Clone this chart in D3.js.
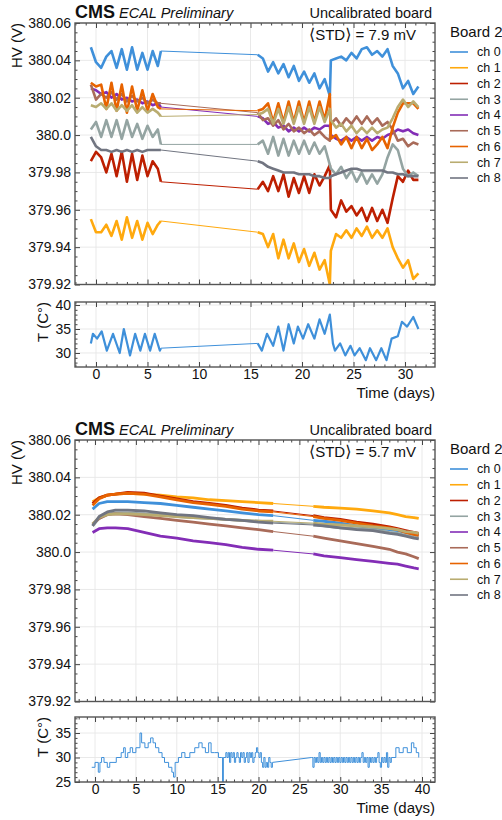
<!DOCTYPE html>
<html>
<head>
<meta charset="utf-8">
<script src="https://cdn.jsdelivr.net/npm/d3@7"></script>
<style>
body { margin: 0; background: #fff; }
text { font-family: "Liberation Sans", Arial, sans-serif; fill: #111; }
</style>
</head>
<body>
<svg id="chart" width="502" height="820"></svg>
<script>
// HV values are written as mV relative to 380 V
var channels = ["ch 0", "ch 1", "ch 2", "ch 3", "ch 4", "ch 5", "ch 6", "ch 7", "ch 8"];
var colors = ["#3f90da", "#ffa90e", "#bd1f01", "#94a4a2", "#832db6", "#a96b59", "#e76300", "#b9ac70", "#717581"];

// ---- uncalibrated board, run 1 ----
var tTop = [-0.5, 0, 0.5, 1, 1.5, 2, 2.5, 3, 3.5, 4, 4.5, 5, 5.5, 6, 6.3,
    15.7, 16.2, 16.7, 17.2, 17.7, 18.2, 18.7, 19.2, 19.7, 20.2, 20.7, 21.2, 21.7, 22.2, 22.7,
    22.8, 23.3, 23.8, 24.3, 24.8, 25.3, 25.8, 26.3, 26.8, 27.3, 27.8, 28.3, 28.8, 29.3, 29.8, 30.3, 30.8, 31.3];
var top_ch0 = [47, 39, 36, 42, 45, 36, 46, 35, 47, 35, 44, 35, 45, 37, 45,
    43, 41, 34, 39, 33, 38, 31, 37, 29, 34, 28, 33, 25, 30, 21,
    40, 41, 42, 40, 44, 41, 46, 47, 43, 45, 42, 46, 37, 33, 25, 29, 22, 26];
var top_ch1 = [-45, -52, -52, -48, -54, -46, -56, -44, -55, -46, -56, -47, -53, -48, -46,
    -52, -53, -60, -53, -66, -56, -66, -58, -68, -61, -70, -63, -72, -67, -80,
    -62, -53, -55, -51, -55, -50, -54, -49, -55, -51, -55, -50, -60, -66, -71, -67, -77, -74];
var top_ch2 = [-14, -9, -12, -20, -10, -22, -9, -25, -10, -24, -11, -22, -14, -18, -25,
    -29, -25, -30, -22, -30, -21, -33, -23, -31, -22, -31, -21, -27, -22, -16,
    -40, -44, -35, -41, -38, -43, -39, -46, -39, -46, -40, -47, -34, -22, -25, -19, -24, -24];
var top_ch3 = [3, 7, -1, 8, -1, 8, -2, 8, -1, 6, -2, 5, -1, 3, -5,
    -5, -3, -10, -1, -11, -2, -11, -3, -10, -3, -10, -4, -10, -6, -16,
    -18, -21, -17, -23, -19, -25, -20, -26, -21, -26, -21, -12, -5, -8, -18, -22, -20, -22];
var top_ch4 = [25, 24, 22, 23, 20, 22, 19, 20, 18, 19, 17, 18, 16, 17, 15,
    10, 9, 6, 7, 4, 5, 2, 4, 2, 4, 2, 4, 3, 5, 5,
    0, -2, -3, -1, -3, -1, -3, -1, -3, -1, -2, 0, 1, 3, 2, 3, 1, 0];
var top_ch5 = [27, 19, 22, 20, 23, 19, 22, 18, 21, 18, 20, 17, 19, 17, 17,
    12, 8, 9, 5, 8, 3, 6, 2, 4, 1, 3, 0, 2, -1, -3,
    6, 9, 5, 9, 6, 10, 6, 10, 6, 9, 5, 7, 3, -3, -2, -6, -4, -5];
var top_ch6 = [28, 26, 27, 14, 28, 13, 27, 12, 26, 13, 24, 13, 22, 15, 14,
    13, 14, 17, 7, 17, 7, 18, 7, 18, 7, 18, 7, 18, 8, 22,
    -2, 0, -5, -1, -7, -1, -7, -2, -8, -5, -1, -7, 4, 12, 17, 17, 17, 14];
var top_ch7 = [16, 15, 17, 14, 17, 13, 16, 13, 16, 12, 15, 12, 14, 12, 10,
    11, 12, 14, 6, 14, 6, 15, 6, 15, 6, 15, 6, 15, 7, 14,
    8, 4, 6, 2, 5, 1, 4, 1, 4, 1, 3, 4, 9, 15, 19, 15, 18, 15];
var top_ch8 = [-1, -6, -8, -8, -9, -8, -9, -8, -9, -8, -9, -8, -8, -8, -8,
    -14, -15, -17, -18, -19, -20, -20, -20, -21, -21, -21, -22, -22, -23, -23,
    -22, -21, -20, -19, -18, -18, -19, -19, -19, -19, -19, -20, -20, -21, -21, -22, -22, -22];

var tTempTop = [-0.5, -0.3, 0.1, 0.55, 1.05, 1.65, 2.3, 2.7, 3.3, 3.8, 4.3, 4.75, 5.25, 5.7, 6.2, 6.3,
    15.7, 16.1, 16.6, 17.2, 17.7, 18.2, 18.7, 19.2, 19.6, 20.1, 20.6, 21.2, 21.7, 22.2, 22.7,
    23.0, 23.2, 23.7, 24.2, 24.7, 25.1, 25.6, 26.2, 26.6, 27.2, 27.7, 28.2, 28.7, 29.3, 29.7, 30.2, 30.8, 31.3];
var tempTop = [32, 34, 33, 34.5, 30.5, 34, 30, 35, 29.5, 34, 30.5, 34, 30.5, 34, 30.5, 31,
    32, 30.5, 34, 31.5, 35.5, 30.5, 36, 32, 35.5, 33, 36, 33, 37, 34, 38,
    32, 30.5, 32, 29.5, 31.5, 29.5, 31, 28.5, 31, 28.5, 31, 28.5, 33, 33.5, 36.5, 35.5, 37.5, 35];

// ---- uncalibrated board, run 2 ----
var tBot = [-0.3, 0.5, 1.5, 2.5, 4, 6, 8, 10, 12, 14, 16, 18, 20, 21.8,
    26.7, 28, 30, 32, 34, 36, 37, 38, 39, 39.6];
var bot_ch0 = [23, 26, 27, 27, 27, 26.5, 26, 25, 24, 23, 22, 21, 20, 19.5, 17, 16.5, 15.5, 14, 13, 12, 11.5, 10.5, 9.5, 9];
var bot_ch1 = [27, 29, 30.5, 31, 31.5, 31, 30.5, 29.5, 29, 28, 27.5, 27, 26.5, 26, 24.5, 24, 23.5, 23, 22, 21, 20, 19, 18.5, 18];
var bot_ch2 = [26, 29, 30.5, 31, 32, 31.5, 30, 28.5, 27, 26, 25, 23.5, 22.5, 22, 19.5, 18.5, 17.5, 16, 15, 13.5, 12.5, 11.5, 10.5, 10];
var bot_ch3 = [14, 18, 20.5, 21, 21, 20.5, 20, 19, 18.5, 18, 17.5, 17, 16.5, 16, 15, 14, 13, 12.5, 12, 10.5, 10, 9, 8, 7.5];
var bot_ch4 = [10.5, 12.5, 13, 13, 12.5, 10.5, 8.5, 7.5, 6, 5, 4, 2.5, 1.5, 1, -1, -2, -3, -4, -5, -6, -6.5, -7.5, -8.5, -9];
var bot_ch5 = [15, 18, 20, 20.5, 20, 19, 18, 17, 16, 15, 14, 13, 12, 11, 8.5, 7.5, 6, 4.5, 3, 1.5, 0, -1, -2.5, -3.5];
var bot_ch6 = [25, 28.5, 30.5, 31, 31.5, 31, 29.5, 28, 26.5, 25.5, 24.5, 23, 22, 21.5, 19, 18, 17, 15.5, 14, 13, 12, 10.5, 9.5, 9];
var bot_ch7 = [15, 18.5, 20, 20.5, 20.5, 20, 19.5, 19, 18.5, 18, 17.5, 17, 16.5, 16.5, 15.5, 15, 14.5, 14, 13.5, 12.5, 12, 11, 10.5, 10];
var bot_ch8 = [14, 19, 21.5, 22.5, 22.5, 22, 21, 20, 19.5, 18.5, 17.5, 17, 16, 15.5, 14.5, 14, 13, 12, 11.5, 10, 9.5, 8.5, 7.5, 7];

var tTempBot = [-0.4, 0, 0.4, 0.6, 0.8, 1.1, 1.5, 1.8, 2.6, 3.2, 3.5, 3.7, 4.0, 4.3, 4.6, 5.0, 5.5, 5.7, 6.1, 6.5,
    6.8, 7.1, 7.4, 7.8, 8.2, 8.5, 9.0, 9.4, 9.6, 9.8, 10.2, 10.6, 11.0, 11.6, 12.2, 12.7, 13.1, 13.5, 13.9, 14.2,
    14.6, 15.1, 15.5, 15.6, 15.7,
    16.0, 16.15, 16.3, 16.45, 16.6, 16.75, 16.9, 17.05, 17.2, 17.35, 17.5, 17.65, 17.8, 17.95, 18.1, 18.25, 18.4, 18.55, 18.7, 18.85,
    19.0, 19.15, 19.3, 19.45, 19.6, 19.75, 19.9, 20.05, 20.2, 20.35, 20.5, 20.65, 20.8, 20.95, 21.1, 21.25, 21.4, 21.55, 21.7,
    26.5, 26.65, 26.8, 26.95, 27.1, 27.25, 27.4, 27.55, 27.7, 27.85, 28.0, 28.15, 28.3, 28.45, 28.6, 28.75, 28.9, 29.05, 29.2, 29.35,
    29.5, 29.65, 29.8, 29.95, 30.1, 30.25, 30.4, 30.55, 30.7, 30.85, 31.0, 31.15, 31.3, 31.45, 31.6, 31.75, 31.9, 32.05, 32.2, 32.35,
    32.5, 32.65, 32.8, 32.95, 33.1, 33.25, 33.4, 33.55, 33.7, 33.85, 34.0, 34.15, 34.3, 34.45, 34.6, 34.75, 34.9, 35.05, 35.2, 35.35,
    35.5, 35.65, 35.8, 35.95, 36.1, 36.25,
    36.8, 37.2, 37.7, 38.2, 38.7, 39.0, 39.3, 39.6];
var tempBot = [28, 29, 27, 29, 30, 29, 28, 29, 30, 31, 32, 30, 31, 32, 31, 32, 35, 33, 32, 33,
    34, 33, 32, 31, 30, 29, 28, 27, 26, 29, 30, 31, 30, 31, 32, 33, 32, 31, 33, 31,
    31, 30, 30, 25, 30,
    31, 30, 31, 29, 31, 30, 31, 29, 30, 31, 30, 29, 31, 30, 31, 29, 30, 31, 29, 31,
    30, 31, 29, 30, 31, 32, 31, 30, 31, 29, 28, 30, 28, 29, 28, 30, 29, 28, 29,
    30, 28, 30, 29, 30, 29, 31, 29, 30, 29, 30, 29, 30, 29, 30, 29, 30, 29, 30, 29,
    30, 29, 30, 29, 30, 29, 30, 29, 30, 29, 30, 29, 30, 29, 30, 29, 30, 29, 30, 29,
    30, 31, 29, 30, 29, 30, 28, 30, 29, 30, 29, 30, 29, 30, 31, 29, 28, 30, 29, 30,
    29, 31, 28, 30, 29, 30,
    32, 31, 32, 31, 33, 32, 31, 30];

var hvTicks = [379.92, 379.94, 379.96, 379.98, 380.0, 380.02, 380.04, 380.06];
var hvTickLabels = ["379.92", "379.94", "379.96", "379.98", "380.0", "380.02", "380.04", "380.06"];

var svg = d3.select("#chart");
var L = 75, W = 360;
var mv = function (v) { return 380 + v / 1000; };

// split a series where the time gap is large; those gaps get a thin joining line
function pieces(ts, vs) {
    var segs = [[]], joins = [];
    for (var i = 0; i < ts.length; i++) {
        if (i > 0 && ts[i] - ts[i - 1] > 2) {
            joins.push([[ts[i - 1], vs[i - 1]], [ts[i], vs[i]]]);
            segs.push([]);
        }
        segs[segs.length - 1].push([ts[i], vs[i]]);
    }
    return {segs: segs, joins: joins};
}

function panel(top, h, x, y, yt, ytLab, yMinor, xt, xMinor, id) {
    var g = svg.append("g").attr("transform", "translate(" + L + "," + top + ")");
    g.append("clipPath").attr("id", id).append("rect").attr("width", W).attr("height", h);
    g.selectAll(".gx").data(xt).enter().append("line")
        .attr("x1", d => x(d)).attr("x2", d => x(d)).attr("y1", 0).attr("y2", h)
        .attr("stroke", "#e6e6e6").attr("stroke-width", 0.9);
    g.selectAll(".gy").data(yt).enter().append("line")
        .attr("y1", d => y(d)).attr("y2", d => y(d)).attr("x1", 0).attr("x2", W)
        .attr("stroke", "#e6e6e6").attr("stroke-width", 0.9);
    var data = g.append("g").attr("clip-path", "url(#" + id + ")");
    var axes = function (xLabels) {
        function style(a) {
            a.select(".domain").remove();
            a.attr("color", "#444");
            a.selectAll("text").attr("font-size", 14).attr("fill", "#111");
        }
        g.append("g").call(d3.axisLeft(y).tickValues(yt).tickFormat((d, i) => ytLab[i]).tickSize(-5).tickPadding(4)).call(style);
        g.append("g").call(d3.axisLeft(y).tickValues(yMinor).tickFormat("").tickSize(-2.5)).call(style);
        g.append("g").attr("transform", "translate(" + W + ",0)").call(d3.axisRight(y).tickValues(yt).tickFormat("").tickSize(-5)).call(style);
        g.append("g").attr("transform", "translate(" + W + ",0)").call(d3.axisRight(y).tickValues(yMinor).tickFormat("").tickSize(-2.5)).call(style);
        var bx = d3.axisBottom(x).tickValues(xt).tickSize(-5).tickPadding(2.5);
        if (!xLabels) bx.tickFormat("");
        g.append("g").attr("transform", "translate(0," + h + ")").call(bx).call(style);
        g.append("g").attr("transform", "translate(0," + h + ")").call(d3.axisBottom(x).tickValues(xMinor).tickFormat("").tickSize(-2.5)).call(style);
        g.append("g").call(d3.axisTop(x).tickValues(xt).tickFormat("").tickSize(-5)).call(style);
        g.append("g").call(d3.axisTop(x).tickValues(xMinor).tickFormat("").tickSize(-2.5)).call(style);
        g.append("rect").attr("width", W).attr("height", h)
            .attr("fill", "none").attr("stroke", "#555").attr("stroke-width", 1.4);
    };
    return {g: g, data: data, axes: axes};
}

function drawSeries(layer, x, y, ts, vs, color, width, curve) {
    var p = pieces(ts, vs);
    var line = d3.line().x(d => x(d[0])).y(d => y(d[1])).curve(curve || d3.curveLinear);
    p.joins.forEach(function (j) {
        layer.append("path").attr("d", d3.line().x(d => x(d[0])).y(d => y(d[1]))(j))
            .attr("fill", "none").attr("stroke", color).attr("stroke-width", 1);
    });
    p.segs.forEach(function (s) {
        layer.append("path").attr("d", line(s))
            .attr("fill", "none").attr("stroke", color).attr("stroke-width", width)
            .attr("stroke-linejoin", "round");
    });
}

function hvBlock(top, tArr, series, xDom, xt, xMinor, std, id, width) {
    var h = 261.5;
    var x = d3.scaleLinear().domain(xDom).range([0, W]);
    var y = d3.scaleLinear().domain([379.92, 380.06]).range([h, 0]);
    var yMinor = d3.range(379.925, 380.06, 0.005).filter(v => Math.abs(Math.round(v * 50) - v * 50) > 0.01);
    var p = panel(top, h, x, y, hvTicks, hvTickLabels, yMinor, xt, xMinor, id);
    series.forEach(function (s, i) {
        drawSeries(p.data, x, y, tArr, s.map(mv), colors[i], width);
    });
    p.axes(false);
    var o = top - 23;
    svg.append("text").attr("x", L).attr("y", o + 17.5).attr("font-size", 18).attr("font-weight", "bold").text("CMS")
        .append("tspan").attr("dx", 4).attr("font-size", 14.5).attr("font-weight", "normal").attr("font-style", "italic").text("ECAL Preliminary");
    svg.append("text").attr("x", 432).attr("y", o + 17.5).attr("text-anchor", "end").attr("font-size", 14.5).text("Uncalibrated board");
    var st = svg.append("text").attr("x", 416).attr("y", o + 40).attr("text-anchor", "end").attr("font-size", 15);
    st.append("tspan").style("font-family", "'DejaVu Sans'").attr("font-size", 16).text("\u27E8");
    st.append("tspan").text("STD");
    st.append("tspan").style("font-family", "'DejaVu Sans'").attr("font-size", 16).text("\u27E9");
    st.append("tspan").text(" = " + std + " mV");
    svg.append("text").attr("transform", "translate(22," + top + ") rotate(-90)").attr("text-anchor", "end").attr("font-size", 15).text("HV (V)");
    svg.append("text").attr("x", 450).attr("y", o + 37).attr("font-size", 15).text("Board 2");
    var leg = svg.append("g").selectAll("g").data(channels).enter().append("g")
        .attr("transform", (d, i) => "translate(450," + (o + 52 + i * 15.75) + ")");
    leg.append("line").attr("x1", 0).attr("x2", 18).attr("stroke", (d, i) => colors[i]).attr("stroke-width", 1.6);
    leg.append("text").attr("x", 27).attr("dy", "0.35em").attr("font-size", 12.5).text(d => d);
}

function tBlock(top, ts, vs, xDom, xt, xMinor, yDom, yt, yMinor, width, curve, id) {
    var h = 65;
    var x = d3.scaleLinear().domain(xDom).range([0, W]);
    var y = d3.scaleLinear().domain(yDom).range([h, 0]);
    var p = panel(top, h, x, y, yt, yt.map(String), yMinor, xt, xMinor, id);
    drawSeries(p.data, x, y, ts, vs, colors[0], width, curve);
    p.axes(true);
    svg.append("text").attr("transform", "translate(48," + top + ") rotate(-90)").attr("text-anchor", "end").attr("font-size", 15).text("T (C\u00B0)");
    svg.append("text").attr("x", L + W).attr("y", top + h + 31).attr("text-anchor", "end").attr("font-size", 15).text("Time (days)");
}

var xTop = [0, 5, 10, 15, 20, 25, 30];
var xBot = [0, 5, 10, 15, 20, 25, 30, 35, 40];

hvBlock(23, tTop, [top_ch0, top_ch1, top_ch2, top_ch3, top_ch4, top_ch5, top_ch6, top_ch7, top_ch8],
    [-2.04, 32.91], xTop, d3.range(-2, 33).filter(v => v % 5 !== 0), "7.9", "c1", 2.6);
tBlock(302, tTempTop, tempTop, [-2.04, 32.91], xTop, d3.range(-2, 33).filter(v => v % 5 !== 0),
    [27.08, 40.63], [30, 35, 40], d3.range(28, 41).filter(v => v % 5 !== 0), 2.2, d3.curveLinear, "c2");

hvBlock(440, tBot, [bot_ch0, bot_ch1, bot_ch2, bot_ch3, bot_ch4, bot_ch5, bot_ch6, bot_ch7, bot_ch8],
    [-2.45, 41.59], xBot, d3.range(-2, 42).filter(v => v % 5 !== 0), "5.7", "c3", 2.8);
tBlock(717, tTempBot, tempBot, [-2.45, 41.59], xBot, d3.range(-2, 42).filter(v => v % 5 !== 0),
    [25, 38.27], [25, 30, 35], d3.range(26, 39).filter(v => v % 5 !== 0), 1, d3.curveStepAfter, "c4");
</script>
</body>
</html>
